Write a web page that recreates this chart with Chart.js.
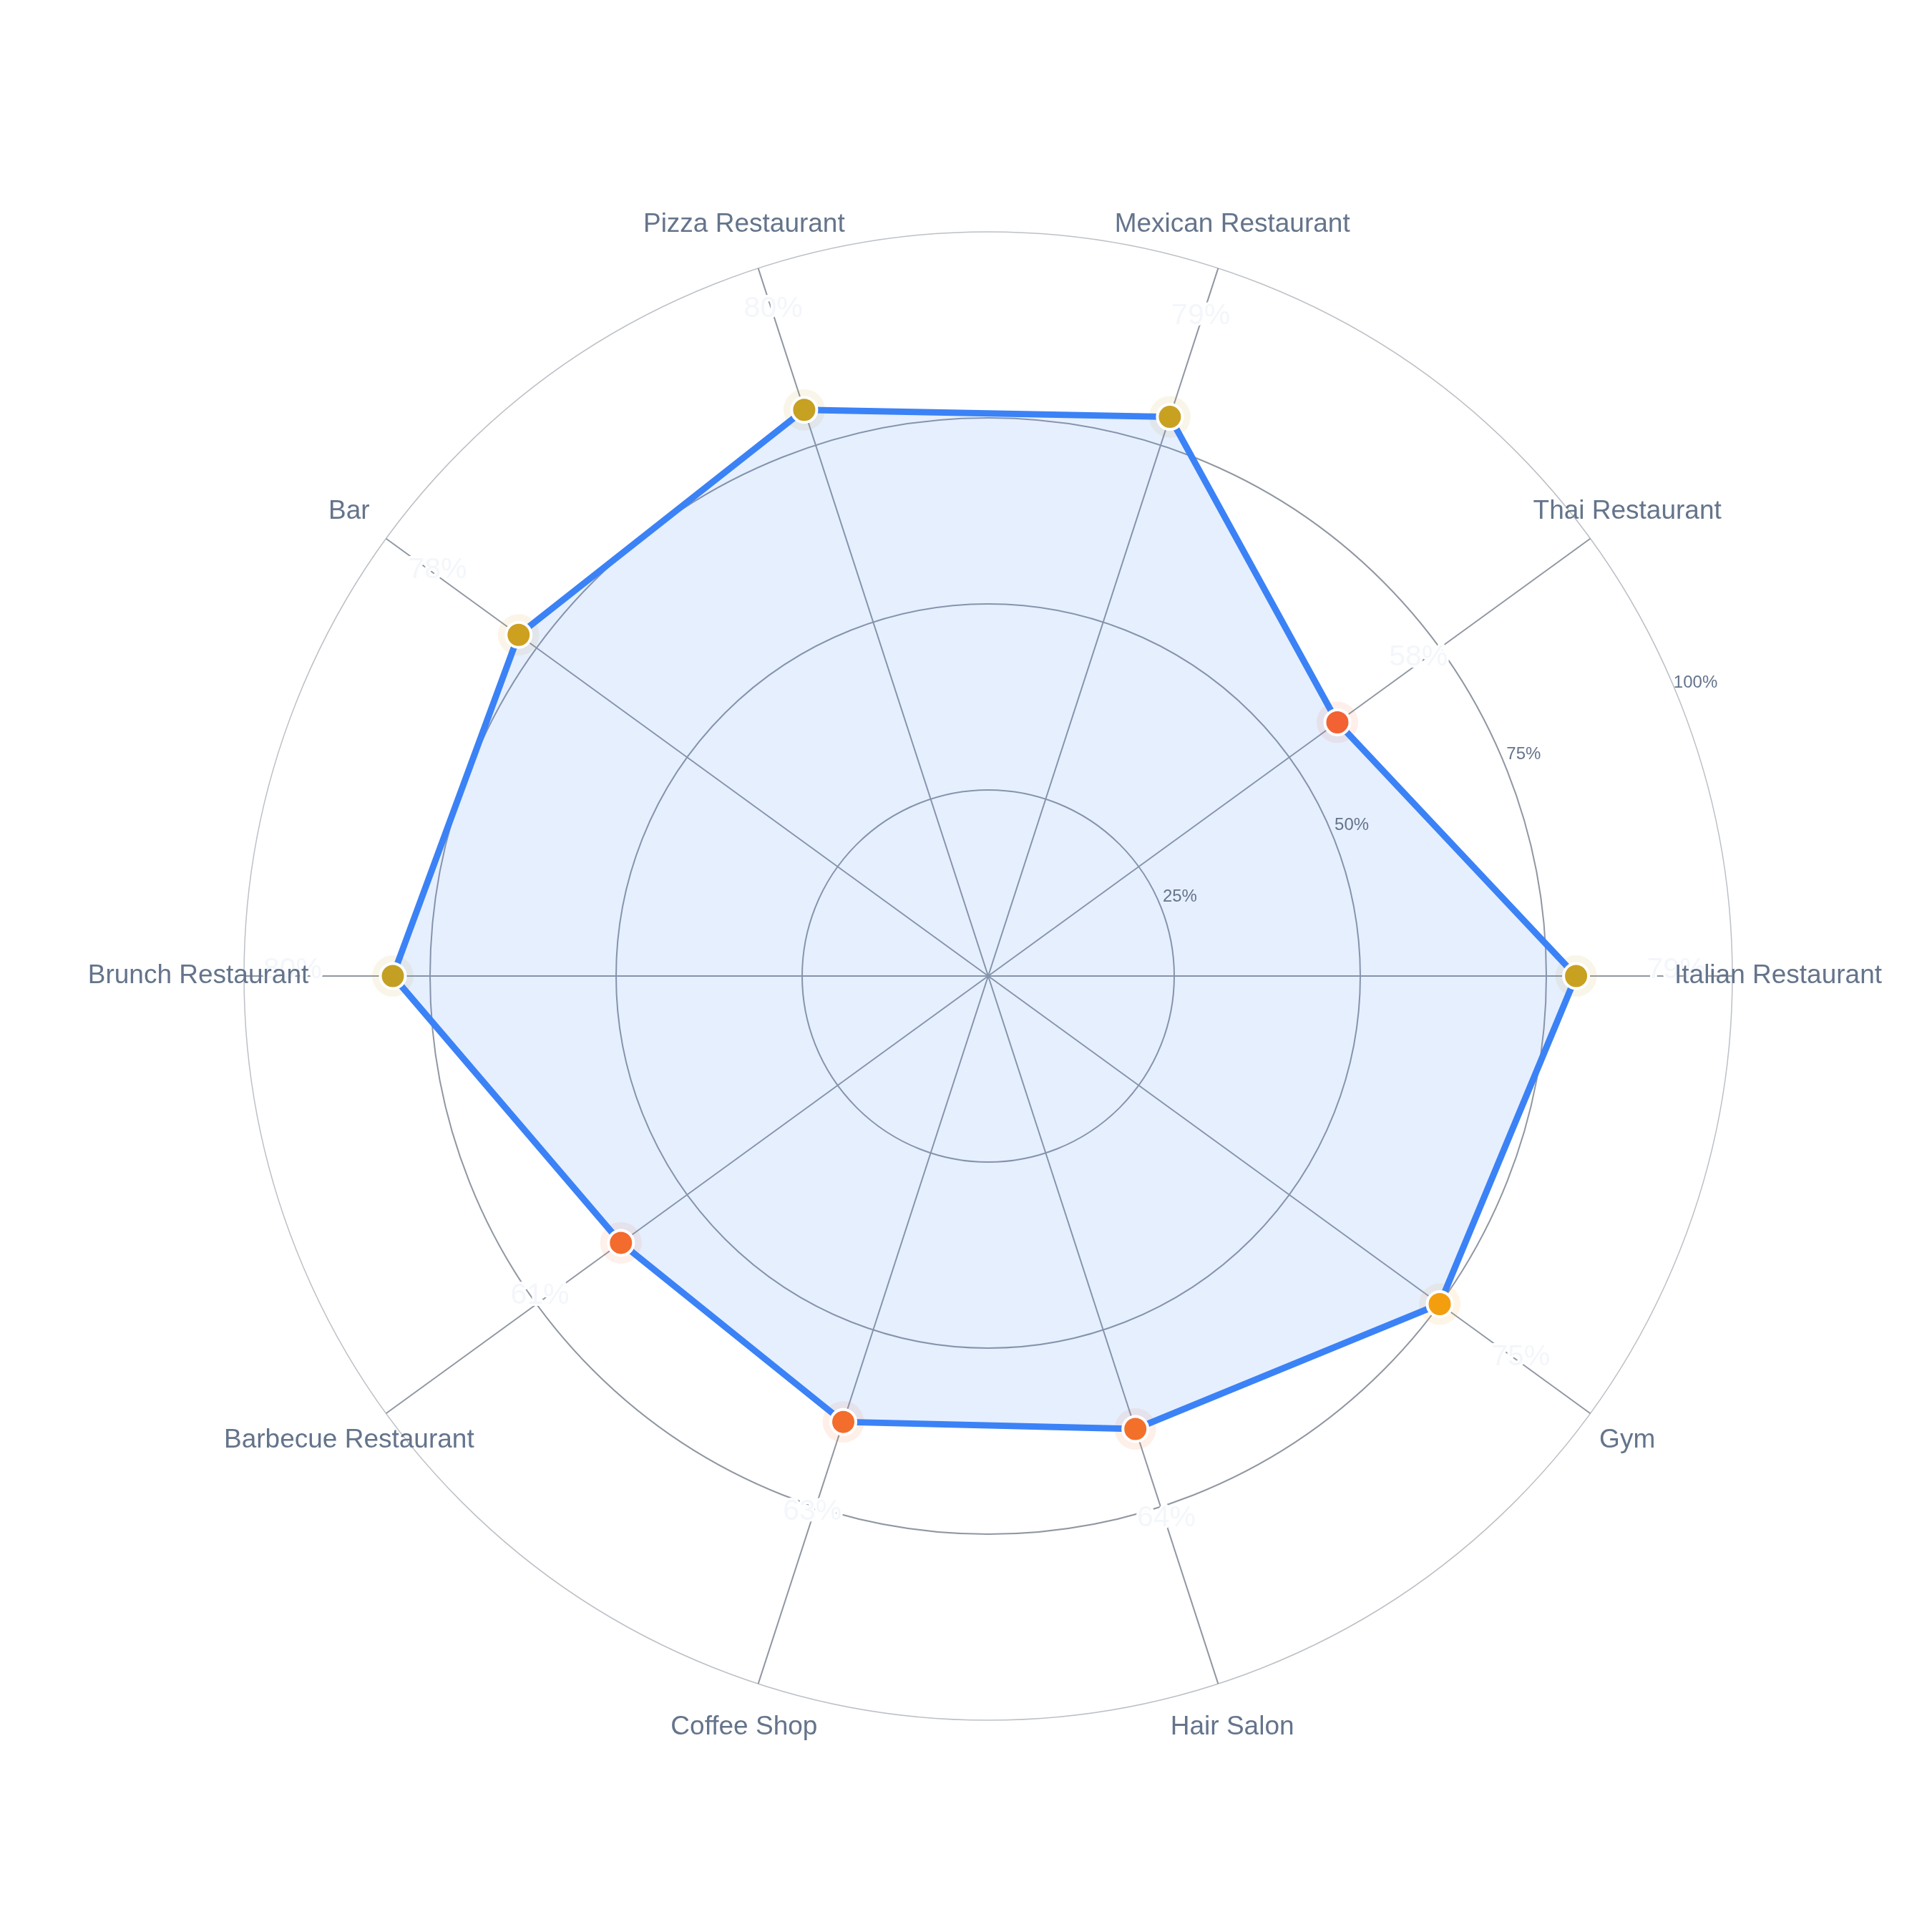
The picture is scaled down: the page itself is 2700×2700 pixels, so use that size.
<!DOCTYPE html>
<html>
<head>
<meta charset="utf-8">
<script src="https://cdn.jsdelivr.net/npm/chart.js@4.4.1/dist/chart.umd.min.js"></script>
<style>
  html, body { margin: 0; padding: 0; background: #ffffff; }
  #wrap { width: 2700px; height: 2700px; }
</style>
</head>
<body>
<div id="wrap"><canvas id="c" width="2700" height="2700"></canvas></div>
<script>
// Categories in drawing (clockwise from the right) order
const categories = ['Italian Restaurant', 'Gym', 'Hair Salon', 'Coffee Shop', 'Barbecue Restaurant',
                    'Brunch Restaurant', 'Bar', 'Pizza Restaurant', 'Mexican Restaurant', 'Thai Restaurant'];
const values = [79, 75, 64, 63, 61, 80, 78, 80, 79, 58];
const pointColors = ['#C9A121', '#F39E0F', '#F3702B', '#F36D2C', '#F36B2D',
                     '#C3A024', '#CDA01F', '#C6A122', '#C9A121', '#F26233'];
const haloColors = ['rgba(201,161,33,0.10)', 'rgba(243,158,15,0.10)', 'rgba(243,112,43,0.10)', 'rgba(243,109,44,0.10)', 'rgba(243,107,45,0.10)',
                    'rgba(195,160,36,0.10)', 'rgba(205,160,31,0.10)', 'rgba(198,161,34,0.10)', 'rgba(201,161,33,0.10)', 'rgba(242,98,51,0.10)'];
const tickValues = [25, 50, 75, 100];
const tickLabels = ['25%', '50%', '75%', '100%'];

const FONT = '"Liberation Sans", Arial, Helvetica, sans-serif';

const overlayPlugin = {
  id: 'overlay',
  beforeDatasetsDraw(chart) {
    // faint value labels
    const s = chart.scales.r;
    const ctx = chart.ctx;
    ctx.save();
    ctx.font = '41px ' + FONT;
    ctx.textAlign = 'center';
    ctx.textBaseline = 'middle';
    ctx.lineJoin = 'round';
    values.forEach((v, i) => {
      const p = s.getPointPosition(i, s.getDistanceFromCenterForValue(v) + 140);
      const txt = v + '%';
      ctx.strokeStyle = '#ffffff';
      ctx.lineWidth = 6;
      ctx.strokeText(txt, p.x, p.y - 8);
      ctx.fillStyle = '#F3F6FA';
      ctx.fillText(txt, p.x, p.y - 8);
    });
    ctx.restore();
  },
  afterDraw(chart) {
    const s = chart.scales.r;
    const ctx = chart.ctx;
    ctx.save();
    // point labels, centered at a fixed radius
    ctx.font = '37px ' + FONT;
    ctx.fillStyle = '#64748B';
    ctx.textAlign = 'center';
    ctx.textBaseline = 'middle';
    categories.forEach((c, i) => {
      const p = s.getPointPosition(i, s.drawingArea + 64);
      ctx.fillText(c, p.x, p.y);
    });
    // radial tick labels along a 22.5° ray
    ctx.font = '24px ' + FONT;
    const a = 22.5 * Math.PI / 180;
    tickValues.forEach((v, i) => {
      const d = s.getDistanceFromCenterForValue(v) + 30;
      ctx.fillText(tickLabels[i], s.xCenter + d * Math.cos(a), s.yCenter - d * Math.sin(a));
    });
    ctx.restore();
  }
};

new Chart(document.getElementById('c'), {
  type: 'radar',
  data: {
    labels: categories,
    datasets: [
      {
        data: values,
        borderColor: '#3B82F6',
        borderWidth: 9,
        backgroundColor: 'rgba(59,130,246,0.13)',
        fill: true,
        tension: 0,
        pointRadius: 17.5,
        pointBorderWidth: 4,
        pointBorderColor: '#ffffff',
        pointBackgroundColor: pointColors,
        pointHoverRadius: 17.5
      },
      {
        data: values,
        showLine: false,
        fill: false,
        borderColor: 'rgba(0,0,0,0)',
        borderWidth: 0,
        pointRadius: 29,
        pointBorderWidth: 0,
        pointBackgroundColor: haloColors,
        pointHoverRadius: 29
      }
    ]
  },
  options: {
    responsive: false,
    animation: false,
    devicePixelRatio: 1,
    events: [],
    layout: { padding: { left: 341, top: 324, right: 279, bottom: 296 } },
    plugins: { legend: { display: false }, tooltip: { enabled: false } },
    scales: {
      r: {
        min: 0,
        max: 100,
        startAngle: 90,
        ticks: { display: false, stepSize: 25 },
        pointLabels: { display: false },
        grid: {
          circular: true,
          color: (ctx) => ctx.tick && ctx.tick.value === 100 ? '#BCC0C6' : '#9097A1',
          lineWidth: (ctx) => ctx.tick && ctx.tick.value === 100 ? 1.5 : 2
        },
        angleLines: { display: true, color: '#9097A1', lineWidth: 2 }
      }
    }
  },
  plugins: [overlayPlugin]
});
</script>
</body>
</html>
